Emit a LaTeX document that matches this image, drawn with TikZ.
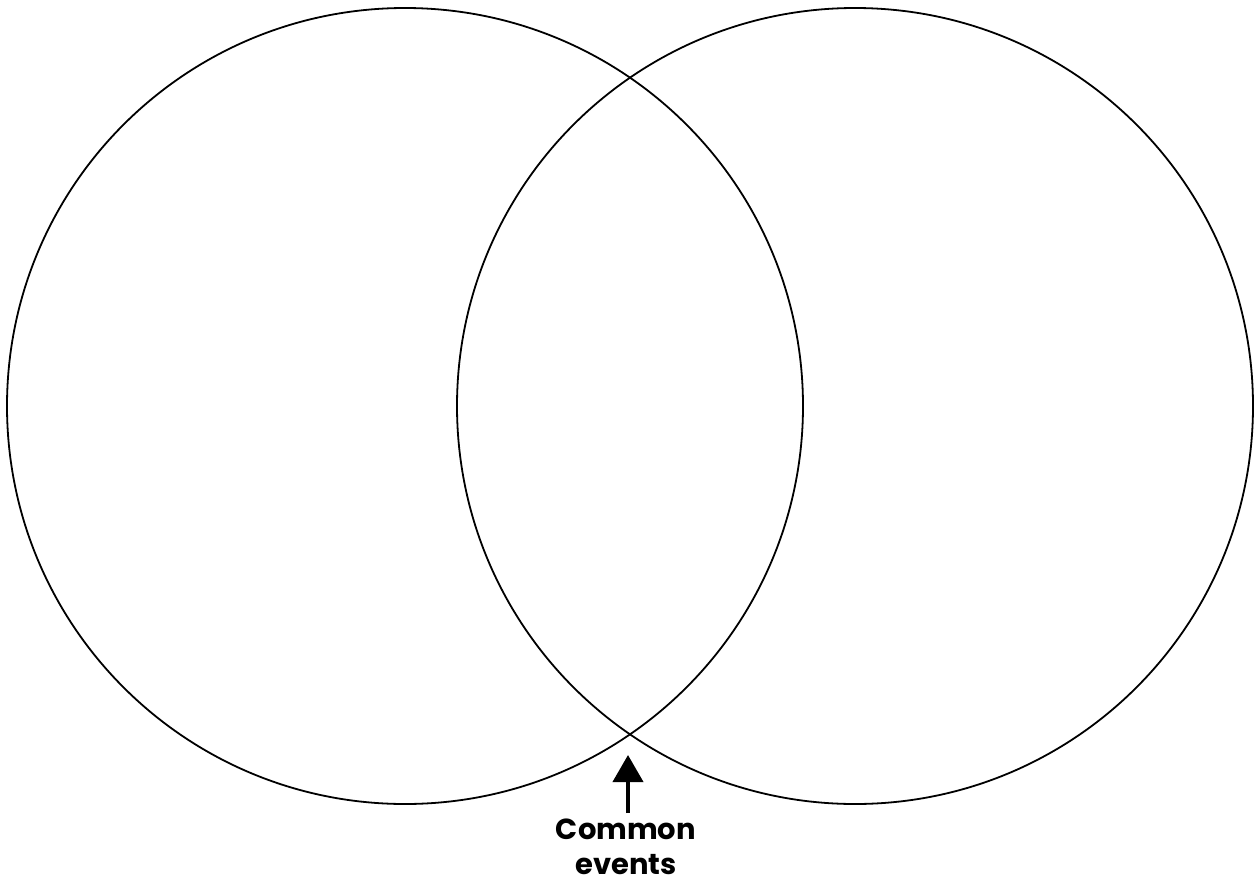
\documentclass[tikz,border=0pt]{standalone}
\usepackage{fontspec}
\setmainfont{Poppins}
\usetikzlibrary{arrows.meta}
\begin{document}
\begin{tikzpicture}[x=1pt,y=-1pt,
  setcircle/.style={draw=black,line width=1.8pt},
  pointer/.style={line width=4pt,-{Triangle[width=30pt,length=27pt]}},
  lbl/.style={font=\fontsize{29}{35}\selectfont\bfseries,align=center,text=black,inner sep=0pt}]
\useasboundingbox (0,0) rectangle (1259,884);
\node[setcircle,circle,minimum size=796pt,inner sep=0pt] (A) at (405,406) {};
\node[setcircle,circle,minimum size=796pt,inner sep=0pt] (B) at (855,406) {};
\coordinate (tip) at (628,755);
\node[lbl,anchor=north] (L) at (626,819) {Common\\events};
\coordinate (tail) at (628,813);
\draw[pointer] (tail) -- (tip);
\end{tikzpicture}
\end{document}
